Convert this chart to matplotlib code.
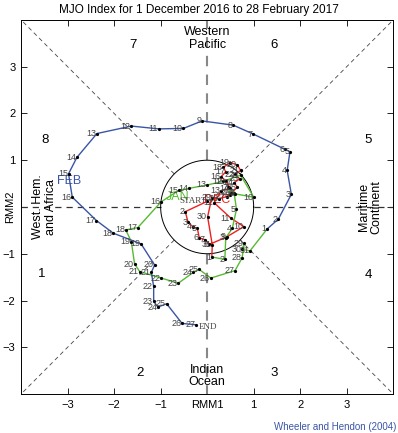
import numpy as np
import matplotlib
matplotlib.use("Agg")
from matplotlib import pyplot as plt

plt.rcParams['font.family'] = ['Liberation Sans', 'DejaVu Sans']

# RMM1 / RMM2 daily values
dec_x = [0.00, -0.47, -0.41, -0.31, -0.21, -0.17, -0.05, 0.05, 0.42, 0.79,
         0.51, 0.15, 0.30, 0.50, 0.40, 0.30, 0.40, 0.35, 0.50, 0.65,
         0.72, 0.60, 0.70, 0.58, 0.65, 0.52, 0.42, 0.25, 0.10, 0.01, 0.11]
dec_y = [0.12, -0.10, -0.33, -0.42, -0.46, -0.66, -0.70, -0.80, -0.64, -0.42,
         -0.24, 0.09, 0.35, 0.40, 0.55, 0.65, 0.75, 0.85, 0.95, 0.90,
         0.78, 0.70, 0.60, 0.52, 0.42, 0.30, 0.22, 0.18, 0.20, -0.21, -0.81]

jan_x = [0.10, 0.38, 0.40, 0.54, 0.63, 0.58, 0.45, 0.50, 0.60, 1.00,
         0.72, 0.35, 0.00, -0.38, -0.60, -0.99, -1.49, -1.75, -1.63, -1.56,
         -1.45, -0.99, -0.62, -0.30, -0.18, 0.08, 0.60, 0.75, 0.80, 0.75, 0.92]
jan_y = [-1.07, -1.12, -0.66, -0.46, -0.05, 0.30, 0.42, 0.25, 0.28, 0.21,
         0.68, 0.55, 0.47, 0.40, 0.36, 0.11, -0.44, -0.49, -0.74, -1.22,
         -1.38, -1.52, -1.63, -1.40, -1.33, -1.52, -1.36, -1.09, -0.78, -0.90, -0.94]

feb_x = [1.29, 1.53, 1.81, 1.72, 1.78, 1.68, 0.99, 0.56, -0.11, -0.51,
         -1.04, -1.63, -2.37, -2.80, -2.98, -2.90, -2.38, -2.02, -1.42, -1.13,
         -1.20, -1.15, -1.15, -1.06, -0.87, -0.54, -0.23]
feb_y = [-0.47, -0.26, 0.27, 0.78, 1.18, 1.23, 1.56, 1.75, 1.84, 1.68,
         1.67, 1.73, 1.57, 1.06, 0.71, 0.21, -0.29, -0.56, -0.79, -1.24,
         -1.40, -1.70, -2.02, -2.14, -2.07, -2.49, -2.52]

months = ['DEC', 'JAN', 'FEB']
month_colors = ['#ee2020', '#55bb33', '#3a55a5']
month_label_pos = [(0.22, 0.15), (-0.64, 0.21), (-2.97, 0.56)]

phase_nums = ['1', '2', '3', '4', '5', '6', '7', '8']
phase_pos = [(-3.55, -1.43), (-1.45, -3.55), (1.45, -3.55), (3.47, -1.45),
             (3.47, 1.43), (1.43, 3.46), (-1.6, 3.46), (-3.48, 1.43)]

tick_vals = [-3, -2, -1, 0, 1, 2, 3]

fig = plt.figure(figsize=(3.98, 4.33), dpi=100)
ax = fig.add_axes([0.053, 0.090, 0.935, 0.864])
ax.set_xlim(-4, 4)
ax.set_ylim(-4, 4)

# guide lines: dashed outside the unit circle
dash = (0, (5, 4))
ax.plot([-4, -1], [0, 0], color='#333333', lw=0.9, ls=dash)
ax.plot([1, 4], [0, 0], color='#333333', lw=0.9, ls=dash)
ax.plot([0, 0], [1, 4], color='#888888', lw=1.5, ls=dash)
ax.plot([0, 0], [-1, -4], color='#888888', lw=1.5, ls=dash)
r = 1 / np.sqrt(2)
for sx, sy in [(1, 1), (1, -1), (-1, 1), (-1, -1)]:
    ax.plot([sx * r, sx * 4], [sy * r, sy * 4], color='#444444', lw=0.6, ls=dash)
t = np.linspace(0, 2 * np.pi, 200)
ax.plot(np.cos(t), np.sin(t), color='black', lw=0.7)

# tracks, each month joined to the first day of the next
all_x = [dec_x, jan_x, feb_x]
all_y = [dec_y, jan_y, feb_y]
for i in range(3):
    xs = list(all_x[i])
    ys = list(all_y[i])
    if i < 2:
        xs.append(all_x[i + 1][0])
        ys.append(all_y[i + 1][0])
    ax.plot(xs, ys, color=month_colors[i], lw=1.0, zorder=3)

for i in range(3):
    ax.plot(all_x[i], all_y[i], ls='none', marker='o', ms=1.3,
            color='black', zorder=4)
    for d in range(len(all_x[i])):
        lab = str(d + 1)
        fam = ['Liberation Sans', 'DejaVu Sans']
        if i == 0 and d == 0:
            lab = 'START'
            fam = ['Liberation Serif']
        ax.annotate(lab, (all_x[i][d], all_y[i][d]), xytext=(-0.5, 0),
                    textcoords='offset points', ha='right', va='center',
                    fontsize=6.5, color='#444444', family=fam, zorder=5)
    mx, my = month_label_pos[i]
    ax.text(mx, my, months[i], color=month_colors[i], fontsize=9,
            ha='center', va='center', zorder=2)

ax.annotate('END', (feb_x[-1], feb_y[-1]), xytext=(2, -1.5),
            textcoords='offset points', ha='left', va='center',
            fontsize=6.5, color='#444444', family=['Liberation Serif'])

# phase numbers and regions
for p, (px, py) in zip(phase_nums, phase_pos):
    ax.text(px, py, p, fontsize=9.5, ha='center', va='center')
ax.text(0, 3.6, 'Western\nPacific', fontsize=9, ha='center', va='center',
        linespacing=1.05)
ax.text(0, -3.62, 'Indian\nOcean', fontsize=9, ha='center', va='center',
        linespacing=1.05)
ax.text(-3.5, 0, 'West. Hem.\nand Africa', fontsize=9, ha='center',
        va='center', rotation=90, linespacing=1.05)
ax.text(3.5, 0, 'Maritime\nContinent', fontsize=9, ha='center',
        va='center', rotation=90, linespacing=1.05)

# axes ticks
ax.set_xticks(tick_vals)
ax.set_yticks(tick_vals)
ax.set_xticklabels(['\u22123', '\u22122', '\u22121', 'RMM1', '1', '2', '3'])
ax.set_yticklabels(['\u22123', '\u22122', '\u22121', 'RMM2', '1', '2', '3'])
ax.tick_params(direction='in', top=True, right=True, length=4, width=0.6,
               labelsize=8, pad=4)
ax.get_yticklabels()[3].set_rotation(90)
ax.get_yticklabels()[3].set_va('center')
for s in ax.spines.values():
    s.set_linewidth(0.7)

fig.text(0.5, 0.977, 'MJO Index for 1 December 2016 to 28 February 2017',
         ha='center', va='center', fontsize=8.5)
fig.text(0.995, 0.015, 'Wheeler and Hendon (2004)', ha='right',
         va='center', fontsize=7, color='#3a55a5')

fig.savefig('out.png', dpi=100)
